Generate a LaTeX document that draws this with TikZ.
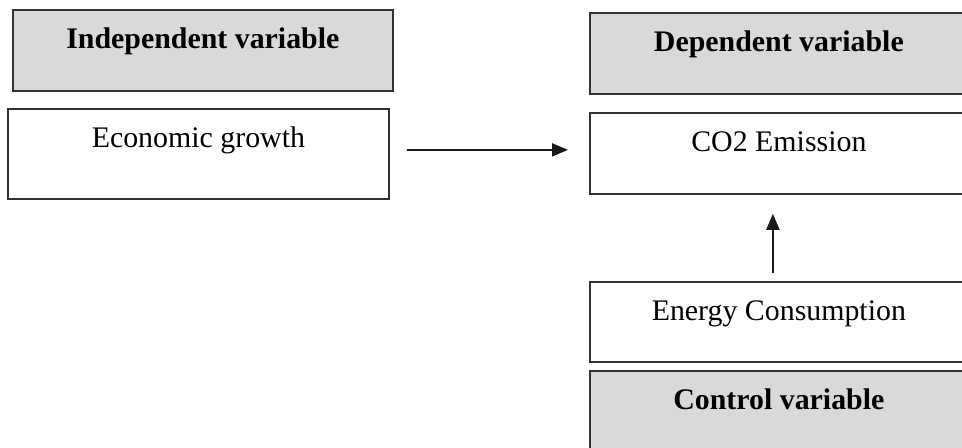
\documentclass[tikz,border=0pt]{standalone}
\usepackage{fontspec}
\setmainfont{Liberation Serif}
\usetikzlibrary{arrows.meta,positioning}
\definecolor{hdrgray}{RGB}{217,217,217}
\definecolor{edge}{RGB}{50,50,50}
\tikzset{
  >={Triangle[length=3.2mm,width=2.6mm]},
  % boxes: text sits near the top, #1 is the space under the baseline
  varbox/.style={draw=edge,line width=0.35mm,fill=white,anchor=north west,
    inner sep=0pt,minimum width=76mm,text height=7.8mm,text depth=#1,
    font=\fontsize{17}{20}\selectfont},
  varbox/.default=8.4mm,
  hdrbox/.style={varbox=#1,fill=hdrgray,font=\fontsize{17}{20}\selectfont\bfseries},
  hdrbox/.default=8.4mm,
  link/.style={->,line width=0.35mm,draw=black!90},
}
\begin{document}
\begin{tikzpicture}[x=0.2mm,y=-0.2mm]
  \useasboundingbox (0,0) rectangle (962,448);
  \clip (0,0) rectangle (962,448);
  % left column
  \node[hdrbox] (indep) at (12,9) {Independent variable};
  \node[varbox=10.2mm,minimum width=76.2mm] (econ) at (7,108) {Economic growth};
  % right column
  \node[hdrbox,minimum width=75.6mm] (dep) at (589,12) {Dependent variable};
  \node[varbox,minimum width=75.6mm] (co2) at (589,112) {CO2 Emission};
  \node[varbox=8.2mm,minimum width=75.6mm] (ener) at (589,281) {Energy Consumption};
  \node[hdrbox=10.2mm,minimum width=75.6mm] (ctrl) at (589,370) {Control variable};
  % arrows
  \draw[link] ([xshift=3.4mm,yshift=0.8mm]econ.east) -- ([xshift=-4.2mm,yshift=0.7mm]co2.west);
  \draw[link] ([xshift=-1.2mm,yshift=1.6mm]ener.north) -- ([xshift=-1.2mm,yshift=-3.8mm]co2.south);
\end{tikzpicture}
\end{document}
